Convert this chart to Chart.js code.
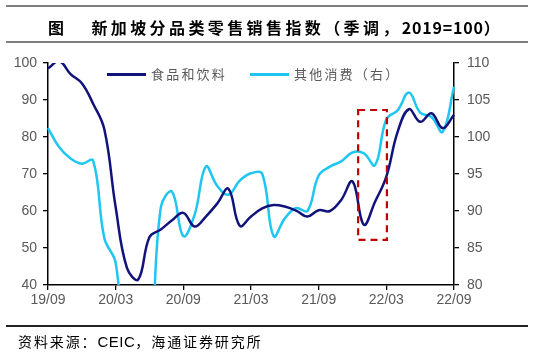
<!DOCTYPE html>
<html>
<head>
<meta charset="utf-8">
<script src="https://cdn.jsdelivr.net/npm/chart.js@4.4.0/dist/chart.umd.min.js"></script>
<style>
  body { margin: 0; background: #fff; }
  #wrap { position: relative; width: 536px; height: 353px; overflow: hidden; }
  #chart { position: absolute; left: 0; top: 0; }
  .rule { position: absolute; left: 6px; width: 522px; background: #7f7f7f; }
  #title { position: absolute; top: 15px; left: 48px; font: bold 16px "Noto Sans CJK SC", sans-serif; color: #000; white-space: nowrap; letter-spacing: 3.4px; }
  #title span { margin-right: 24px; }
  #title em { font-style: normal; letter-spacing: 0.8px; }
  #source { position: absolute; top: 331px; left: 18px; font: 14px "Noto Sans CJK SC", sans-serif; color: #000; white-space: nowrap; letter-spacing: 1.9px; }
  #source b { font: 15px "Liberation Sans", Arial, sans-serif; letter-spacing: 0.5px; }
  .leg { position: absolute; top: 64px; font: 13px "Noto Sans CJK SC", sans-serif; color: #595959; white-space: nowrap; letter-spacing: 2.2px; }
  .leg i { display: inline-block; width: 39px; height: 3px; vertical-align: middle; margin-right: 5px; position: relative; top: -1px; }
</style>
</head>
<body>
<div id="wrap">
  <canvas id="chart" width="536" height="353"></canvas>
  <div class="rule" style="top:5px;height:2px"></div>
  <div id="title"><span>图</span>新加坡分品类零售销售指数（季调，<em>2019=100</em>）</div>
  <div class="rule" style="top:41px;height:2px"></div>
  <div class="leg" style="left:107px"><i style="background:#12137a"></i>食品和饮料</div>
  <div class="leg" style="left:250px"><i style="background:#1fc6f2"></i>其他消费（右）</div>
  <div class="rule" style="top:325px;height:1.5px;background:#222"></div>
  <div id="source">资料来源：<b>CEIC</b>，海通证券研究所</div>
</div>
<script>
const months = ['19/09','19/10','19/11','19/12','20/01','20/02','20/03','20/04','20/05','20/06','20/07','20/08',
  '20/09','20/10','20/11','20/12','21/01','21/02','21/03','21/04','21/05','21/06','21/07','21/08',
  '21/09','21/10','21/11','21/12','22/01','22/02','22/03','22/04','22/05','22/06','22/07','22/08','22/09'];

// 食品和饮料 (left axis)
const foodBev = [98.5, 100.5, 97, 94.5, 89, 82, 61, 44.6, 41.5, 53, 55, 57.5,
  59.5, 55.8, 58.5, 62, 66, 56, 58.5, 60.7, 61.6, 61.2, 60.1, 58.5,
  60.2, 60, 63, 68, 56.3, 62.5, 69.3, 81.4, 87.5, 84.1, 86.4, 82.4, 86];

// 其他消费 (right axis)
const otherCons = [101.2, 98.6, 97.1, 96.4, 96.8, 86.3, 83, 68, 66, 70, 90.5, 92.6,
  86.6, 89.5, 96, 93.4, 92.2, 94.1, 95.1, 95, 86.6, 89, 90.4, 90,
  94.8, 96, 96.7, 97.9, 97.8, 96.2, 102.4, 103.6, 106, 103.3, 102.7, 100.7, 106.8];

const leftTicks = [40, 50, 60, 70, 80, 90, 100];
const rightTicks = [80, 85, 90, 95, 100, 105, 110];

// highlighted window: x from month index, y on left axis
const boxX = [27.5, 30.05];
const boxY = [52.2, 87.3];

const boxPlugin = {
  id: 'dashBox',
  afterDatasetsDraw(chart) {
    const { ctx, scales } = chart;
    const x1 = scales.x.getPixelForValue(boxX[0]);
    const x2 = scales.x.getPixelForValue(boxX[1]);
    const y1 = scales.y.getPixelForValue(boxY[1]);
    const y2 = scales.y.getPixelForValue(boxY[0]);
    ctx.save();
    ctx.strokeStyle = '#c00000';
    ctx.lineWidth = 2.2;
    ctx.setLineDash([7, 5]);
    ctx.strokeRect(x1, y1, x2 - x1, y2 - y1);
    ctx.restore();
  }
};

const tickFont = { family: '"Liberation Sans", Arial, sans-serif', size: 14 };
const axisGrid = { drawOnChartArea: false, drawTicks: true, tickLength: 5, color: '#000', lineWidth: 1.3 };
const axisBorder = { display: true, color: '#000', width: 1.5 };

new Chart(document.getElementById('chart').getContext('2d'), {
  type: 'line',
  data: {
    labels: months,
    datasets: [
      {
        label: '食品和饮料',
        data: foodBev,
        yAxisID: 'y',
        borderColor: '#12137a',
        borderWidth: 2.5,
        pointRadius: 0,
        tension: 0.4
      },
      {
        label: '其他消费（右）',
        data: otherCons,
        yAxisID: 'y1',
        borderColor: '#1fc6f2',
        borderWidth: 2.5,
        pointRadius: 0,
        tension: 0.4
      }
    ]
  },
  options: {
    responsive: false,
    animation: false,
    layout: { padding: { top: 63, left: 0, right: 0, bottom: 0 } },
    plugins: { legend: { display: false }, tooltip: { enabled: false } },
    scales: {
      x: {
        offset: false,
        grid: axisGrid,
        border: axisBorder,
        afterFit: function (s) { s.height = 68; },
        ticks: {
          autoSkip: false,
          maxRotation: 0,
          padding: 2,
          color: '#595959',
          font: tickFont,
          callback: function (v, i) { return i % 6 === 0 ? months[i] : null; }
        }
      },
      y: {
        position: 'left',
        min: 40,
        max: 100,
        grid: axisGrid,
        border: axisBorder,
        afterFit: function (s) { s.width = 48; },
        afterBuildTicks: function (s) { s.ticks = leftTicks.map(v => ({ value: v })); },
        ticks: { padding: 6, color: '#595959', font: tickFont }
      },
      y1: {
        position: 'right',
        min: 80,
        max: 110,
        grid: axisGrid,
        border: axisBorder,
        afterFit: function (s) { s.width = 82; },
        afterBuildTicks: function (s) { s.ticks = rightTicks.map(v => ({ value: v })); },
        ticks: { padding: 8, color: '#595959', font: tickFont }
      }
    }
  },
  plugins: [boxPlugin]
});
</script>
</body>
</html>
